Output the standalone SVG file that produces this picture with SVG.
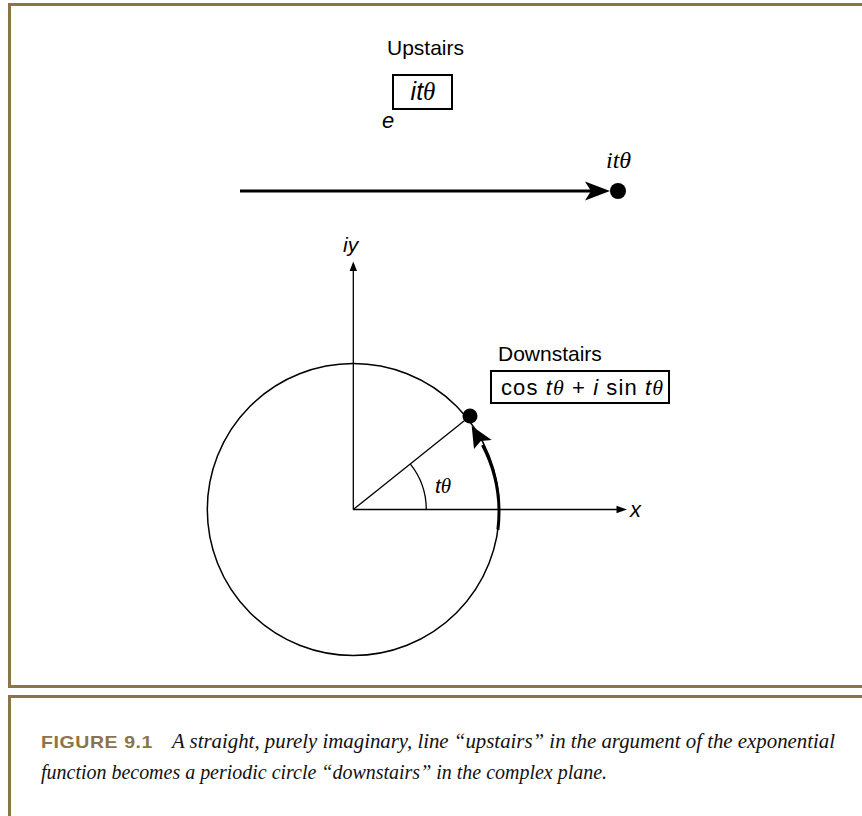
<svg xmlns="http://www.w3.org/2000/svg" width="862" height="816" viewBox="0 0 862 816">
<style>
.frame{fill:none;stroke:#8b7446;stroke-width:3}
.sans{font-family:"Liberation Sans",Arial,sans-serif;font-size:21px;fill:#000}
.it{font-style:italic}
.serif{font-family:"Liberation Serif","Times New Roman",serif}
.thin{stroke:#000;stroke-width:1.3;fill:none}
.thick{stroke:#000;stroke-width:3;fill:none}
.cap{font-family:"Liberation Serif","Times New Roman",serif;font-style:italic;font-size:21px;fill:#111}
.fig{font-family:"Liberation Sans",Arial,sans-serif;font-weight:bold;font-size:17px;fill:#8b7446;letter-spacing:0.5px}
</style>
<rect width="862" height="816" fill="#fff"/>
<g id="frames">
<path class="frame" d="M862,4.5 H9.5 V686.5 H862"/>
<path class="frame" d="M862,696.5 H9.5 V816"/>
</g>
<g id="upstairs">
<text class="sans" x="387" y="55">Upstairs</text>
<rect x="393" y="75" width="59" height="34" fill="none" stroke="#000" stroke-width="2"/>
<text class="sans it" x="423" y="100" style="font-size:25px" text-anchor="middle">it<tspan class="serif">θ</tspan></text>
<text class="sans it" x="382" y="128" style="font-size:22px">e</text>
</g>
<g id="connectors">
<line class="thick" x1="240" y1="191" x2="592" y2="191"/>
<path d="M610,191 L585,181.5 L591,191 L585,200.5 Z" fill="#000"/>
<line class="thin" x1="353.3" y1="509.5" x2="353.3" y2="268"/>
<path d="M353.3,261.5 L349.6,271 L357,271 Z" fill="#000"/>
<line class="thin" x1="353.3" y1="509.5" x2="620" y2="509.5"/>
<path d="M627,509.5 L616.5,505.8 L616.5,513.2 Z" fill="#000"/>
<line class="thin" x1="353.3" y1="509.5" x2="469" y2="417"/>
<path class="thin" d="M426.3,509.5 A73,73 0 0 0 410.4,464.1"/>
<path class="thick" d="M497.9,529.8 A146,146 0 0 0 482.5,445"/>
<path d="M471.7,426 L474,449 L480.8,441 L491.7,440 Z" fill="#000"/>
</g>
<g id="upstairs-point">
<circle cx="618" cy="191" r="8" fill="#000"/>
<text class="sans it serif" x="606" y="168" style="font-size:24px">itθ</text>
</g>
<g id="plane">
<circle cx="353.3" cy="509.5" r="146" fill="none" stroke="#000" stroke-width="1.5"/>
<text class="sans it" x="343" y="252">iy</text>
<text class="sans it" x="630" y="517" style="font-size:22px">x</text>
<text class="sans it" x="435" y="493">t<tspan class="serif">θ</tspan></text>
</g>
<g id="downstairs">
<circle cx="470" cy="416" r="7.5" fill="#000"/>
<text class="sans" x="498" y="361">Downstairs</text>
<rect x="491" y="371" width="178" height="32" fill="none" stroke="#000" stroke-width="2"/>
<text class="sans" x="501" y="395" style="font-size:22px" textLength="162" lengthAdjust="spacing">cos <tspan class="it">t</tspan><tspan class="it serif">θ</tspan> + <tspan class="it">i</tspan> sin <tspan class="it">t</tspan><tspan class="it serif">θ</tspan></text>
</g>
<g id="caption">
<text class="fig" x="41" y="748" textLength="112" lengthAdjust="spacingAndGlyphs">FIGURE 9.1</text>
<text class="cap" x="172" y="748" textLength="663" lengthAdjust="spacingAndGlyphs">A straight, purely imaginary, line “upstairs” in the argument of the exponential</text>
<text class="cap" x="41" y="779" textLength="566" lengthAdjust="spacingAndGlyphs">function becomes a periodic circle “downstairs” in the complex plane.</text>
</g>
</svg>
